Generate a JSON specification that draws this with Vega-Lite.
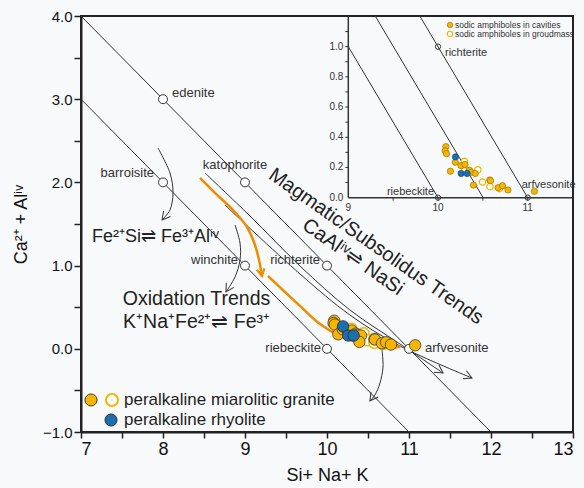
{
  "$schema": "https://vega.github.io/schema/vega-lite/v6.json",
  "width": 492,
  "height": 416,
  "autosize": {"type": "none"},
  "padding": {"left": 81, "top": 16, "right": 11, "bottom": 56},
  "background": "#f8f9fa",
  "config": {
    "view": {"stroke": "#222", "strokeWidth": 2},
    "font": "Liberation Sans",
    "text": {"font": "Liberation Sans", "color": "#222"}
  },
  "datasets": {
    "endmembers": [
      {"name": "edenite", "x": 8, "y": 3},
      {"name": "barroisite", "x": 8, "y": 2},
      {"name": "katophorite", "x": 9, "y": 2},
      {"name": "winchite", "x": 9, "y": 1},
      {"name": "richterite", "x": 10, "y": 1},
      {"name": "riebeckite", "x": 10, "y": 0},
      {"name": "arfvesonite", "x": 11, "y": 0}
    ],
    "paths": [
      {"id": "L1", "i": 0, "x": 7, "y": 4},
      {"id": "L1", "i": 1, "x": 12, "y": -1},
      {"id": "L2", "i": 0, "x": 7, "y": 3},
      {"id": "L2", "i": 1, "x": 11, "y": -1},
      {"id": "A", "i": 0, "x": 8.512, "y": 2.113},
      {"id": "A", "i": 1, "x": 9.061, "y": 1.596},
      {"id": "A", "i": 2, "x": 9.671, "y": 0.995},
      {"id": "A", "i": 3, "x": 10.28, "y": 0.466},
      {"id": "A", "i": 4, "x": 10.89, "y": 0.058},
      {"id": "A", "i": 5, "x": 11.415, "y": -0.291},
      {"id": "B", "i": 0, "x": 8.756, "y": 1.728},
      {"id": "B", "i": 1, "x": 9.671, "y": 0.899},
      {"id": "B", "i": 2, "x": 10.28, "y": 0.406},
      {"id": "B", "i": 3, "x": 10.89, "y": 0.034},
      {"id": "B", "i": 4, "x": 11.768, "y": -0.351},
      {"id": "barr", "i": 0, "x": 7.939, "y": 2.413},
      {"id": "barr", "i": 1, "x": 8.085, "y": 2.113},
      {"id": "barr", "i": 2, "x": 8.122, "y": 1.873},
      {"id": "barr", "i": 3, "x": 8.085, "y": 1.668},
      {"id": "barr", "i": 4, "x": 7.988, "y": 1.548},
      {"id": "winc", "i": 0, "x": 8.878, "y": 1.488},
      {"id": "winc", "i": 1, "x": 8.939, "y": 1.272},
      {"id": "winc", "i": 2, "x": 8.939, "y": 1.067},
      {"id": "winc", "i": 3, "x": 8.878, "y": 0.863},
      {"id": "winc", "i": 4, "x": 8.768, "y": 0.683},
      {"id": "clus", "i": 0, "x": 10.671, "y": -0.014},
      {"id": "clus", "i": 1, "x": 10.683, "y": -0.219},
      {"id": "clus", "i": 2, "x": 10.646, "y": -0.411},
      {"id": "clus", "i": 3, "x": 10.585, "y": -0.555},
      {"id": "clus", "i": 4, "x": 10.524, "y": -0.627}
    ],
    "orangePaths": [
      {"id": "o1", "i": 0, "x": 8.451, "y": 2.053},
      {"id": "o1", "i": 1, "x": 8.634, "y": 1.873},
      {"id": "o1", "i": 2, "x": 8.854, "y": 1.668},
      {"id": "o1", "i": 3, "x": 9.024, "y": 1.464},
      {"id": "o1", "i": 4, "x": 9.122, "y": 1.248},
      {"id": "o1", "i": 5, "x": 9.171, "y": 1.067},
      {"id": "o1", "i": 6, "x": 9.207, "y": 0.875},
      {"id": "o2", "i": 0, "x": 9.28, "y": 0.875},
      {"id": "o2", "i": 1, "x": 9.488, "y": 0.683},
      {"id": "o2", "i": 2, "x": 9.671, "y": 0.515},
      {"id": "o2", "i": 3, "x": 9.915, "y": 0.298},
      {"id": "o2", "i": 4, "x": 10.159, "y": 0.154},
      {"id": "o2", "i": 5, "x": 10.402, "y": 0.07},
      {"id": "o2", "i": 6, "x": 10.707, "y": 0.034},
      {"id": "o2", "i": 7, "x": 10.89, "y": 0.022}
    ],
    "tips": [
      {"id": "barr", "x": 7.988, "y": 1.548},
      {"id": "winc", "x": 8.768, "y": 0.683},
      {"id": "clus", "x": 10.524, "y": -0.627},
      {"id": "A", "x": 11.415, "y": -0.291},
      {"id": "B", "x": 11.768, "y": -0.351},
      {"id": "o1", "x": 9.207, "y": 0.875},
      {"id": "o2", "x": 10.915, "y": 0.022}
    ],
    "samples": [
      {"type": "groundmass", "x": 10.296, "y": 0.24},
      {"type": "groundmass", "x": 10.296, "y": 0.178},
      {"type": "groundmass", "x": 10.444, "y": 0.185},
      {"type": "groundmass", "x": 10.496, "y": 0.104},
      {"type": "groundmass", "x": 10.58, "y": 0.073},
      {"type": "groundmass", "x": 10.685, "y": 0.06},
      {"type": "cavity", "x": 10.088, "y": 0.338},
      {"type": "cavity", "x": 10.08, "y": 0.31},
      {"type": "cavity", "x": 10.095, "y": 0.291},
      {"type": "cavity", "x": 10.138, "y": 0.175},
      {"type": "cavity", "x": 10.193, "y": 0.234},
      {"type": "cavity", "x": 10.257, "y": 0.212},
      {"type": "cavity", "x": 10.3, "y": 0.22},
      {"type": "cavity", "x": 10.35, "y": 0.182},
      {"type": "cavity", "x": 10.37, "y": 0.168},
      {"type": "cavity", "x": 10.415, "y": 0.16},
      {"type": "cavity", "x": 10.395, "y": 0.083},
      {"type": "cavity", "x": 10.578, "y": 0.117},
      {"type": "cavity", "x": 10.585, "y": 0.112},
      {"type": "cavity", "x": 10.67, "y": 0.066},
      {"type": "cavity", "x": 10.72, "y": 0.079},
      {"type": "cavity", "x": 10.78, "y": 0.051},
      {"type": "cavity", "x": 11.075, "y": 0.042},
      {"type": "rhyolite", "x": 10.195, "y": 0.27},
      {"type": "rhyolite", "x": 10.258, "y": 0.16},
      {"type": "rhyolite", "x": 10.325, "y": 0.16}
    ],
    "notes": [
      {"t": "Fe²⁺Si⇌ Fe³⁺Alⁱᵛ", "kind": "left", "x": 7.134, "y": 1.341},
      {"t": "Oxidation Trends", "kind": "center", "x": 8.409, "y": 0.599},
      {"t": "K⁺Na⁺Fe²⁺⇌ Fe³⁺", "kind": "center", "x": 8.409, "y": 0.322},
      {"t": "Magmatic/Subsolidus Trends", "kind": "tilt", "x": 10.598, "y": 1.23},
      {"t": "CaAlⁱᵛ⇌ NaSi", "kind": "tilt", "x": 10.317, "y": 1.103}
    ],
    "legendMarks": [
      {"kind": "cavity", "x": 7.122, "y": -0.615},
      {"kind": "groundmass", "x": 7.378, "y": -0.615},
      {"kind": "rhyolite", "x": 7.366, "y": -0.856}
    ],
    "legendText": [
      {"t": "peralkaline miarolitic granite", "x": 7.524, "y": -0.615},
      {"t": "peralkaline rhyolite", "x": 7.524, "y": -0.856}
    ],
    "insetLines": [
      {"id": "r10", "i": 0, "x": 9, "y": 1},
      {"id": "r10", "i": 1, "x": 10, "y": 0},
      {"id": "r105", "i": 0, "x": 9.3, "y": 1.203},
      {"id": "r105", "i": 1, "x": 10.503, "y": 0},
      {"id": "r11", "i": 0, "x": 9.797, "y": 1.203},
      {"id": "r11", "i": 1, "x": 11, "y": 0}
    ],
    "insetFrame": [
      {"id": "ax", "i": 0, "x": 9, "y": 0},
      {"id": "ax", "i": 1, "x": 11.505, "y": 0},
      {"id": "ay", "i": 0, "x": 9, "y": 0},
      {"id": "ay", "i": 1, "x": 9, "y": 1.203}
    ],
    "insetYTicks": [
      {"x": 9, "y": 0.1}, {"x": 9, "y": 0.2}, {"x": 9, "y": 0.3}, {"x": 9, "y": 0.4},
      {"x": 9, "y": 0.5}, {"x": 9, "y": 0.6}, {"x": 9, "y": 0.7}, {"x": 9, "y": 0.8},
      {"x": 9, "y": 0.9}, {"x": 9, "y": 1.0}, {"x": 9, "y": 1.1}
    ],
    "insetYLabels": [
      {"x": 9, "y": 0}, {"x": 9, "y": 0.2}, {"x": 9, "y": 0.4},
      {"x": 9, "y": 0.6}, {"x": 9, "y": 0.8}, {"x": 9, "y": 1.0}
    ],
    "insetXTicks": [
      {"x": 9.5, "y": 0}, {"x": 10, "y": 0}, {"x": 10.5, "y": 0}, {"x": 11, "y": 0}
    ],
    "insetXLabels": [
      {"x": 9, "y": 0}, {"x": 10, "y": 0}, {"x": 11, "y": 0}
    ],
    "insetMembers": [
      {"name": "richterite", "x": 10, "y": 1},
      {"name": "riebeckite", "x": 10, "y": 0},
      {"name": "arfvesonite", "x": 11, "y": 0}
    ],
    "insetLegend": [
      {"kind": "cavity", "t": "sodic amphiboles in cavities", "x": 10.134, "y": 1.144},
      {"kind": "groundmass", "t": "sodic amphiboles in groudmass", "x": 10.134, "y": 1.084}
    ]
  },
  "layer": [
    {
      "encoding": {
        "x": {
          "field": "x", "type": "quantitative",
          "scale": {"domain": [7, 13], "nice": false, "zero": false},
          "axis": {
            "title": "Si+ Na+ K",
            "values": [7, 7.5, 8, 8.5, 9, 9.5, 10, 10.5, 11, 11.5, 12, 12.5, 13],
            "labelExpr": "datum.value % 1 === 0 ? datum.value : ''",
            "grid": false,
            "domainColor": "#222", "domainWidth": 2,
            "tickColor": "#222", "tickWidth": 1.5, "tickSize": 6,
            "labelFontSize": 18, "labelColor": "#111", "labelPadding": 2,
            "labelFont": "Liberation Sans",
            "titleFont": "Liberation Sans", "titleFontSize": 18, "titleFontWeight": "normal",
            "titleColor": "#111", "titlePadding": 8
          }
        },
        "y": {
          "field": "y", "type": "quantitative",
          "scale": {"domain": [-1, 4], "nice": false, "zero": false},
          "axis": {
            "title": "Ca²⁺ + Alⁱᵛ",
            "values": [-1, -0.5, 0, 0.5, 1, 1.5, 2, 2.5, 3, 3.5, 4],
            "labelExpr": "datum.value % 1 === 0 ? format(datum.value, '.1f') : ''",
            "grid": false,
            "domainColor": "#222", "domainWidth": 2,
            "tickColor": "#222", "tickWidth": 1.5, "tickSize": 7,
            "labelFontSize": 15, "labelColor": "#111", "labelPadding": 2,
            "labelFont": "Liberation Sans",
            "titleFont": "Liberation Sans", "titleFontSize": 18, "titleFontWeight": "normal",
            "titleColor": "#111", "titlePadding": 12
          }
        }
      },
      "layer": [
        {
          "data": {"name": "paths"},
          "mark": {"type": "line", "stroke": "#333", "strokeWidth": 1, "interpolate": "catmull-rom"},
          "encoding": {"detail": {"field": "id"}, "order": {"field": "i"}}
        },
        {
          "data": {"name": "orangePaths"},
          "mark": {"type": "line", "stroke": "#f08c00", "strokeWidth": 2.5, "interpolate": "catmull-rom"},
          "encoding": {"detail": {"field": "id"}, "order": {"field": "i"}}
        },
        {
          "data": {"name": "tips"},
          "transform": [{"filter": "datum.id === 'barr'"}],
          "mark": {"type": "point", "shape": "M-1,-0.55L0,0L-1,0.55", "filled": false, "stroke": "#333", "strokeWidth": 1, "size": 256, "angle": 129, "opacity": 1},
          "encoding": {}
        },
        {
          "data": {"name": "tips"},
          "transform": [{"filter": "datum.id === 'winc'"}],
          "mark": {"type": "point", "shape": "M-1,-0.55L0,0L-1,0.55", "filled": false, "stroke": "#333", "strokeWidth": 1, "size": 256, "angle": 121, "opacity": 1},
          "encoding": {}
        },
        {
          "data": {"name": "tips"},
          "transform": [{"filter": "datum.id === 'clus'"}],
          "mark": {"type": "point", "shape": "M-1,-0.55L0,0L-1,0.55", "filled": false, "stroke": "#333", "strokeWidth": 1, "size": 256, "angle": 125, "opacity": 1},
          "encoding": {}
        },
        {
          "data": {"name": "tips"},
          "transform": [{"filter": "datum.id === 'A'"}],
          "mark": {"type": "point", "shape": "M-1,-0.55L0,0L-1,0.55", "filled": false, "stroke": "#333", "strokeWidth": 1, "size": 256, "angle": 34, "opacity": 1},
          "encoding": {}
        },
        {
          "data": {"name": "tips"},
          "transform": [{"filter": "datum.id === 'B'"}],
          "mark": {"type": "point", "shape": "M-1,-0.55L0,0L-1,0.55", "filled": false, "stroke": "#333", "strokeWidth": 1, "size": 256, "angle": 24, "opacity": 1},
          "encoding": {}
        },
        {
          "data": {"name": "tips"},
          "transform": [{"filter": "datum.id === 'o1'"}],
          "mark": {"type": "point", "shape": "M-1,-0.55L0,0L-1,0.55", "filled": false, "stroke": "#f08c00", "strokeWidth": 2.2, "size": 200, "angle": 79, "opacity": 1},
          "encoding": {}
        },
        {
          "data": {"name": "tips"},
          "transform": [{"filter": "datum.id === 'o2'"}],
          "mark": {"type": "point", "shape": "M0,0L-1.6,-0.55L-1.6,0.55Z", "filled": true, "fill": "#f08c00", "size": 144, "angle": 3, "opacity": 1},
          "encoding": {}
        },
        {
          "data": {"name": "endmembers"},
          "mark": {"type": "point", "shape": "circle", "filled": true, "fill": "#ffffff", "stroke": "#333", "strokeWidth": 1, "size": 80, "opacity": 1},
          "encoding": {}
        },
        {
          "data": {"name": "endmembers"},
          "transform": [{"filter": "datum.name === 'edenite'"}],
          "mark": {"type": "text", "align": "left", "baseline": "middle", "dx": 9, "dy": -6, "fontSize": 13, "color": "#333"},
          "encoding": {"text": {"field": "name"}}
        },
        {
          "data": {"name": "endmembers"},
          "transform": [{"filter": "datum.name === 'barroisite'"}],
          "mark": {"type": "text", "align": "right", "baseline": "middle", "dx": -9, "dy": -9, "fontSize": 13, "color": "#333"},
          "encoding": {"text": {"field": "name"}}
        },
        {
          "data": {"name": "endmembers"},
          "transform": [{"filter": "datum.name === 'katophorite'"}],
          "mark": {"type": "text", "align": "center", "baseline": "middle", "dx": -10, "dy": -17, "fontSize": 13, "color": "#333"},
          "encoding": {"text": {"field": "name"}}
        },
        {
          "data": {"name": "endmembers"},
          "transform": [{"filter": "datum.name === 'winchite' || datum.name === 'richterite'"}],
          "mark": {"type": "text", "align": "right", "baseline": "middle", "dx": -7, "dy": -6, "fontSize": 13, "color": "#333"},
          "encoding": {"text": {"field": "name"}}
        },
        {
          "data": {"name": "endmembers"},
          "transform": [{"filter": "datum.name === 'riebeckite'"}],
          "mark": {"type": "text", "align": "right", "baseline": "middle", "dx": -6, "dy": -1, "fontSize": 13, "color": "#333"},
          "encoding": {"text": {"field": "name"}}
        },
        {
          "data": {"name": "endmembers"},
          "transform": [{"filter": "datum.name === 'arfvesonite'"}],
          "mark": {"type": "text", "align": "left", "baseline": "middle", "dx": 16, "dy": -1, "fontSize": 13, "color": "#333"},
          "encoding": {"text": {"field": "name"}}
        },
        {
          "data": {"name": "samples"},
          "transform": [{"filter": "datum.type === 'groundmass'"}],
          "mark": {"type": "point", "shape": "circle", "filled": true, "fill": "#ffffff", "stroke": "#f5b400", "strokeWidth": 1.5, "size": 130, "opacity": 1},
          "encoding": {}
        },
        {
          "data": {"name": "samples"},
          "transform": [{"filter": "datum.type === 'cavity'"}],
          "mark": {"type": "point", "shape": "circle", "filled": true, "fill": "#f7b500", "stroke": "#3a3a3a", "strokeWidth": 0.8, "size": 130, "opacity": 1},
          "encoding": {}
        },
        {
          "data": {"name": "samples"},
          "transform": [{"filter": "datum.type === 'rhyolite'"}],
          "mark": {"type": "point", "shape": "circle", "filled": true, "fill": "#1a6fb0", "stroke": "#2a2a2a", "strokeWidth": 0.8, "size": 130, "opacity": 1},
          "encoding": {}
        },
        {
          "data": {"name": "notes"},
          "transform": [{"filter": "datum.kind === 'left'"}],
          "mark": {"type": "text", "align": "left", "baseline": "middle", "fontSize": 18, "color": "#222"},
          "encoding": {"text": {"field": "t"}}
        },
        {
          "data": {"name": "notes"},
          "transform": [{"filter": "datum.kind === 'center'"}],
          "mark": {"type": "text", "align": "center", "baseline": "middle", "fontSize": 19.5, "color": "#222"},
          "encoding": {"text": {"field": "t"}}
        },
        {
          "data": {"name": "notes"},
          "transform": [{"filter": "datum.kind === 'tilt'"}],
          "mark": {"type": "text", "align": "center", "baseline": "middle", "fontSize": 20, "angle": 35, "color": "#222"},
          "encoding": {"text": {"field": "t"}}
        },
        {
          "data": {"name": "legendMarks"},
          "transform": [{"filter": "datum.kind === 'cavity'"}],
          "mark": {"type": "point", "shape": "circle", "filled": true, "fill": "#f7b500", "stroke": "#3a3a3a", "strokeWidth": 1, "size": 145, "opacity": 1},
          "encoding": {}
        },
        {
          "data": {"name": "legendMarks"},
          "transform": [{"filter": "datum.kind === 'groundmass'"}],
          "mark": {"type": "point", "shape": "circle", "filled": true, "fill": "#ffffff", "stroke": "#f5b400", "strokeWidth": 2, "size": 145, "opacity": 1},
          "encoding": {}
        },
        {
          "data": {"name": "legendMarks"},
          "transform": [{"filter": "datum.kind === 'rhyolite'"}],
          "mark": {"type": "point", "shape": "circle", "filled": true, "fill": "#1a6fb0", "stroke": "#2a2a2a", "strokeWidth": 1, "size": 145, "opacity": 1},
          "encoding": {}
        },
        {
          "data": {"name": "legendText"},
          "mark": {"type": "text", "align": "left", "baseline": "middle", "fontSize": 17, "color": "#222"},
          "encoding": {"text": {"field": "t"}}
        }
      ]
    },
    {
      "encoding": {
        "x": {"field": "x", "type": "quantitative", "scale": {"domain": [6.02, 11.505], "nice": false, "zero": false}, "axis": null},
        "y": {"field": "y", "type": "quantitative", "scale": {"domain": [-1.552, 1.203], "nice": false, "zero": false}, "axis": null}
      },
      "layer": [
        {
          "data": {"name": "insetLines"},
          "mark": {"type": "line", "stroke": "#333", "strokeWidth": 1},
          "encoding": {"detail": {"field": "id"}, "order": {"field": "i"}}
        },
        {
          "data": {"name": "insetFrame"},
          "mark": {"type": "line", "stroke": "#333", "strokeWidth": 1.5},
          "encoding": {"detail": {"field": "id"}, "order": {"field": "i"}}
        },
        {
          "data": {"name": "insetYTicks"},
          "mark": {"type": "point", "shape": "M0,0L-1,0", "filled": false, "stroke": "#333", "strokeWidth": 1, "size": 36, "opacity": 1},
          "encoding": {}
        },
        {
          "data": {"name": "insetXTicks"},
          "mark": {"type": "point", "shape": "M0,0L0,1", "filled": false, "stroke": "#333", "strokeWidth": 1, "size": 36, "opacity": 1},
          "encoding": {}
        },
        {
          "data": {"name": "insetYLabels"},
          "mark": {"type": "text", "align": "right", "baseline": "middle", "dx": -5, "fontSize": 10, "color": "#333"},
          "encoding": {"text": {"field": "y", "type": "quantitative", "format": ".1f"}}
        },
        {
          "data": {"name": "insetXLabels"},
          "mark": {"type": "text", "align": "center", "baseline": "top", "dy": 5, "fontSize": 10, "color": "#333"},
          "encoding": {"text": {"field": "x", "type": "quantitative", "format": "d"}}
        },
        {
          "data": {"name": "insetMembers"},
          "mark": {"type": "point", "shape": "circle", "filled": false, "stroke": "#333", "strokeWidth": 1, "size": 28, "opacity": 1},
          "encoding": {}
        },
        {
          "data": {"name": "insetMembers"},
          "transform": [{"filter": "datum.name === 'richterite'"}],
          "mark": {"type": "text", "align": "left", "baseline": "middle", "dx": 7, "dy": 6, "fontSize": 11, "color": "#333"},
          "encoding": {"text": {"field": "name"}}
        },
        {
          "data": {"name": "insetMembers"},
          "transform": [{"filter": "datum.name === 'riebeckite'"}],
          "mark": {"type": "text", "align": "right", "baseline": "middle", "dx": -4, "dy": -6, "fontSize": 11, "color": "#333"},
          "encoding": {"text": {"field": "name"}}
        },
        {
          "data": {"name": "insetMembers"},
          "transform": [{"filter": "datum.name === 'arfvesonite'"}],
          "mark": {"type": "text", "align": "left", "baseline": "middle", "dx": -6, "dy": -13, "fontSize": 11, "color": "#333"},
          "encoding": {"text": {"field": "name"}}
        },
        {
          "data": {"name": "samples"},
          "transform": [{"filter": "datum.type === 'groundmass'"}],
          "mark": {"type": "point", "shape": "circle", "filled": true, "fill": "#ffffff", "stroke": "#f5b400", "strokeWidth": 1.3, "size": 40, "opacity": 1},
          "encoding": {}
        },
        {
          "data": {"name": "samples"},
          "transform": [{"filter": "datum.type === 'cavity'"}],
          "mark": {"type": "point", "shape": "circle", "filled": true, "fill": "#f7b500", "stroke": "#8a6a00", "strokeWidth": 0.6, "size": 40, "opacity": 1},
          "encoding": {}
        },
        {
          "data": {"name": "samples"},
          "transform": [{"filter": "datum.type === 'rhyolite'"}],
          "mark": {"type": "point", "shape": "circle", "filled": true, "fill": "#1a6fb0", "stroke": "#1a4a70", "strokeWidth": 0.6, "size": 40, "opacity": 1},
          "encoding": {}
        },
        {
          "data": {"name": "insetLegend"},
          "transform": [{"filter": "datum.kind === 'cavity'"}],
          "mark": {"type": "point", "shape": "circle", "filled": true, "fill": "#f7b500", "stroke": "#8a6a00", "strokeWidth": 0.6, "size": 30, "opacity": 1},
          "encoding": {}
        },
        {
          "data": {"name": "insetLegend"},
          "transform": [{"filter": "datum.kind === 'groundmass'"}],
          "mark": {"type": "point", "shape": "circle", "filled": true, "fill": "#ffffff", "stroke": "#f5b400", "strokeWidth": 1.2, "size": 30, "opacity": 1},
          "encoding": {}
        },
        {
          "data": {"name": "insetLegend"},
          "mark": {"type": "text", "align": "left", "baseline": "middle", "dx": 5, "fontSize": 8.5, "color": "#333"},
          "encoding": {"text": {"field": "t"}}
        }
      ]
    }
  ],
  "resolve": {"scale": {"x": "independent", "y": "independent"}}
}
